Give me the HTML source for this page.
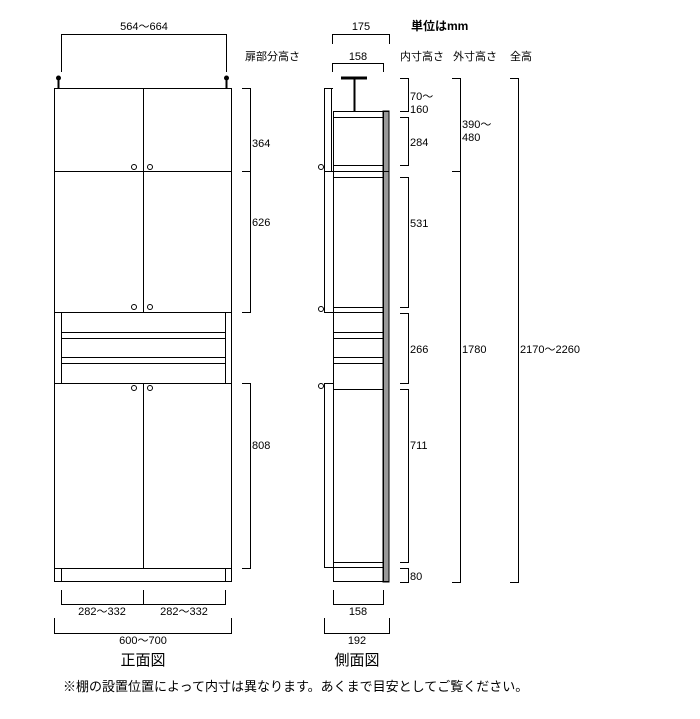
<!DOCTYPE html>
<html><head><meta charset="utf-8"><style>
body{margin:0;background:#fff}
svg{display:block}
text{font-family:"Liberation Sans","Noto Sans CJK JP",sans-serif;font-size:11px;fill:#000}
</style></head><body>
<svg width="700" height="719" viewBox="0 0 700 719" xmlns="http://www.w3.org/2000/svg">
<g fill="none" stroke="#000" stroke-width="1">
<path d="M61.5 72V34.5H226.5V72"/>
<circle cx="58.5" cy="78" r="2" fill="#000"/><path d="M58.5 78V88" stroke-width="2"/>
<circle cx="226.5" cy="78" r="2" fill="#000"/><path d="M226.5 78V88" stroke-width="2"/>
<rect x="54.5" y="88.5" width="177" height="493"/>
<path d="M54.5 171.5H231.5M143.5 88.5V313M54.5 312.5H231.5M61.5 313V383M225.5 313V383M61.5 332.5H225.5M61.5 338.5H225.5M61.5 357.5H225.5M61.5 363.5H225.5M54.5 383.5H231.5M143.5 383V568M54.5 568.5H231.5M61.5 568V582M225.5 568V582"/>
<circle cx="134" cy="167" r="2.5"/><circle cx="150" cy="167" r="2.5"/>
<circle cx="134" cy="307" r="2.5"/><circle cx="150" cy="307" r="2.5"/>
<circle cx="134" cy="388" r="2.5"/><circle cx="150" cy="388" r="2.5"/>
<path d="M242 88.5H250.5V171.5H242M242 171.5H250.5V312.5H242M242 383.5H250.5V568.5H242"/>
<path d="M61.5 590V604.5H225.5V590M143.5 590V604"/>
<path d="M54.5 618V633.5H231.5V618"/>
<path d="M332.5 44V34.5H389.5V44M332.5 72V63.5H383.5V72"/>
<path d="M341 78H367" stroke-width="3"/><path d="M354.5 78V111" stroke-width="2"/>
<rect x="383" y="111" width="6" height="471" fill="#999"/>
<path d="M333.5 111V582M383.5 111V582M333 111.5H389M333 117.5H383M333 165.5H383M324 171.5H389M333 177.5H383M333 307.5H383M333 332.5H383M333 338.5H383M333 357.5H383M333 363.5H383M333 389.5H383M333 562.5H383M333 581.5H389"/>
<path d="M333 88.5H324.5V312.5H383M333 383.5H324.5V567.5H383"/>
<path d="M331.5 88.5V171"/>
<circle cx="321" cy="167" r="2.5" fill="#fff"/><circle cx="321" cy="309" r="2.5" fill="#fff"/><circle cx="321" cy="386" r="2.5" fill="#fff"/>
<path d="M333.5 590V604.5H383.5V590M324.5 618V633.5H389.5V618"/>
<path d="M400 78.5H408.5V111.5H400M400 117.5H408.5V165.5H400M400 177.5H408.5V307.5H400M400 313.5H408.5V383.5H400M400 389.5H408.5V562.5H400M400 568.5H408.5V582.5H400"/>
<path d="M452 78.5H460.5V171.5H452M452 171.5H460.5V582.5H452"/>
<path d="M510 78.5H518.5V582.5H510"/>
</g>
<text x="144" y="30" text-anchor="middle">564～664</text>
<text x="245" y="60">扉部分高さ</text>
<text x="252" y="147">364</text>
<text x="252" y="226">626</text>
<text x="252" y="449">808</text>
<text x="102" y="615" text-anchor="middle">282～332</text>
<text x="184" y="615" text-anchor="middle">282～332</text>
<text x="143" y="644" text-anchor="middle">600～700</text>
<text x="143" y="665" text-anchor="middle" style="font-size:15px">正面図</text>
<text x="361" y="30" text-anchor="middle">175</text>
<text x="358" y="60" text-anchor="middle">158</text>
<text x="411" y="30" style="font-weight:bold;font-size:12px">単位はmm</text>
<text x="400" y="60">内寸高さ</text>
<text x="453" y="60">外寸高さ</text>
<text x="510" y="60">全高</text>
<text x="410" y="100">70～</text>
<text x="410" y="113">160</text>
<text x="410" y="146">284</text>
<text x="410" y="227">531</text>
<text x="410" y="353">266</text>
<text x="410" y="449">711</text>
<text x="410" y="580">80</text>
<text x="462" y="128">390～</text>
<text x="462" y="141">480</text>
<text x="462" y="353">1780</text>
<text x="520" y="353">2170～2260</text>
<text x="358" y="615" text-anchor="middle">158</text>
<text x="357" y="644" text-anchor="middle">192</text>
<text x="357" y="665" text-anchor="middle" style="font-size:15px">側面図</text>
<text x="63" y="691" style="font-size:13px">※棚の設置位置によって内寸は異なります。あくまで目安としてご覧ください。</text>
</svg>
</body></html>
